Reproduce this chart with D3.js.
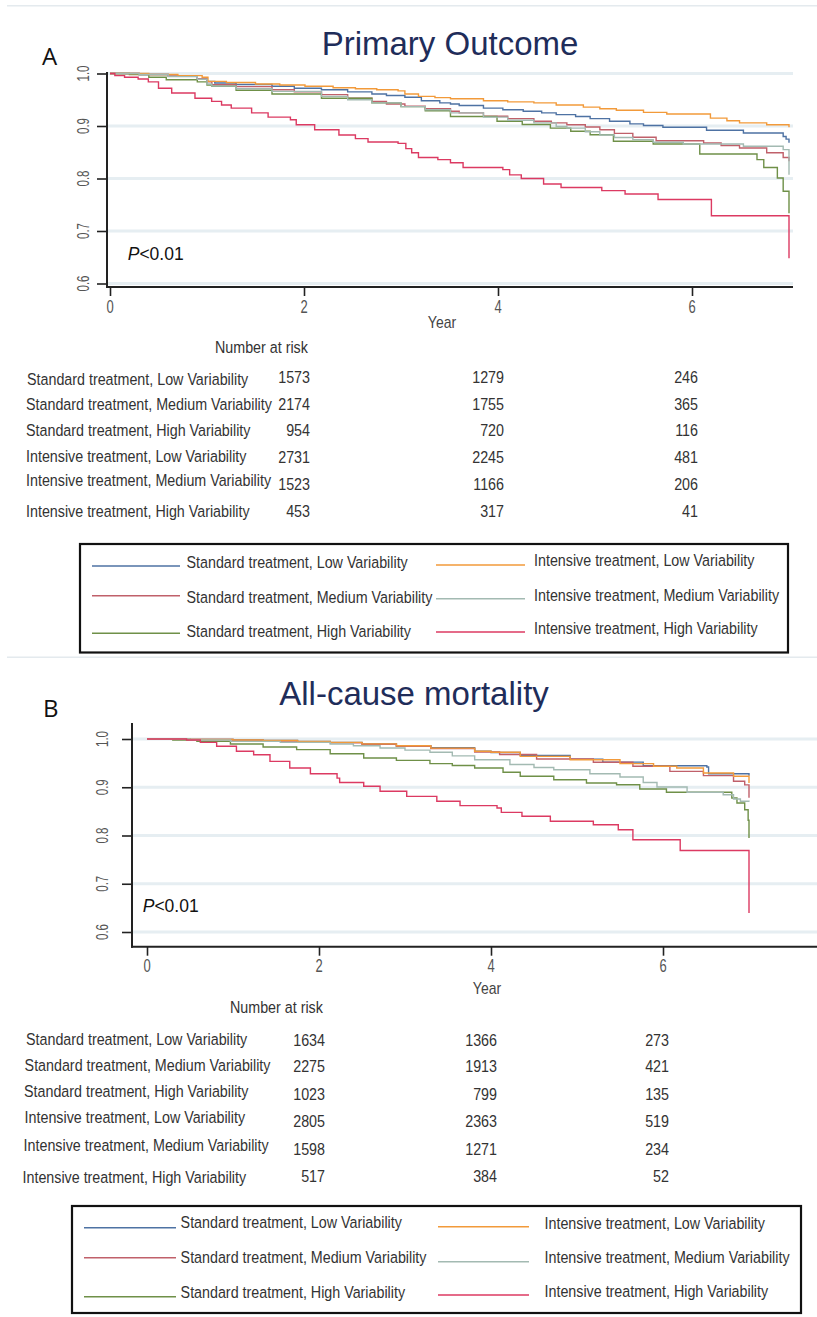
<!DOCTYPE html>
<html><head><meta charset="utf-8">
<script src="https://cdn.jsdelivr.net/npm/d3@7/dist/d3.min.js"></script>
<style>html,body{margin:0;padding:0;background:#fff;}svg{display:block;}</style>
</head><body><svg id="c" width="817" height="1317"></svg>
<script>
// ---------------- DATA ----------------
const seriesNames = [
  "Standard treatment, Low Variability",
  "Standard treatment, Medium Variability",
  "Standard treatment, High Variability",
  "Intensive treatment, Low Variability",
  "Intensive treatment, Medium Variability",
  "Intensive treatment, High Variability"
];
const seriesKeys = ["stdLow","stdMed","stdHigh","intLow","intMed","intHigh"];
const yTicks = [0.6,0.7,0.8,0.9,1.0];
const xTicks = [0,2,4,6];
const riskTimes = [2,4,6];

// Panel A: Primary Outcome  [year, survival] knots (step after)
const primaryStdLow = [[0,1],[0.3,0.998],[0.6,0.995],[0.9,0.99],[1.0,0.985],[1.08,0.982],[1.3,0.979],[1.67,0.9756],[1.9,0.972],[2.18,0.969],[2.45,0.965],[2.70,0.961],[2.85,0.958],[3.04,0.9547],[3.21,0.948],[3.4,0.944],[3.51,0.942],[3.6,0.939],[3.85,0.934],[4.05,0.931],[4.26,0.928],[4.45,0.925],[4.60,0.9216],[4.8,0.918],[4.95,0.914],[5.15,0.909],[5.36,0.904],[5.5,0.901],[5.70,0.8975],[6.15,0.892],[6.53,0.8867],[6.94,0.880],[6.97,0.875],[7.0,0.868]];
const primaryStdMed = [[0,1],[0.3,0.998],[0.6,0.995],[0.9,0.99],[1.0,0.984],[1.05,0.9787],[1.3,0.975],[1.67,0.969],[1.9,0.965],[2.18,0.9597],[2.45,0.953],[2.70,0.947],[2.85,0.942],[3.04,0.9375],[3.25,0.933],[3.51,0.928],[3.6,0.925],[3.85,0.9185],[4.1,0.914],[4.37,0.909],[4.55,0.906],[4.71,0.9025],[4.9,0.898],[5.05,0.893],[5.2,0.886],[5.39,0.8785],[5.63,0.872],[6.12,0.8676],[6.3,0.863],[6.49,0.858],[6.77,0.849],[6.94,0.840],[7.0,0.8327]];
const primaryStdHigh = [[0,1],[0.2,0.998],[0.4,0.993],[0.58,0.988],[0.9,0.984],[1.0,0.978],[1.05,0.9756],[1.3,0.968],[1.67,0.961],[2.18,0.953],[2.70,0.944],[3.0,0.937],[3.25,0.929],[3.51,0.918],[3.99,0.909],[4.25,0.903],[4.54,0.896],[4.75,0.89],[4.95,0.8834],[5.19,0.871],[5.6,0.8657],[6.08,0.8467],[6.67,0.836],[6.74,0.821],[6.88,0.801],[6.94,0.7756],[7.0,0.734]];
const primaryIntLow = [[0,1],[0.4,0.998],[0.7,0.996],[0.95,0.993],[1.01,0.985],[1.2,0.983],[1.5,0.98],[1.75,0.978],[2.01,0.9756],[2.3,0.973],[2.53,0.971],[2.75,0.969],[2.97,0.967],[3.04,0.961],[3.18,0.9565],[3.35,0.954],[3.51,0.952],[3.85,0.948],[4.1,0.946],[4.37,0.944],[4.6,0.940],[4.88,0.936],[5.05,0.933],[5.22,0.93],[5.5,0.926],[5.74,0.923],[6.19,0.915],[6.36,0.91],[6.49,0.906],[6.77,0.9025],[7.0,0.8975]];
const primaryIntMed = [[0,1],[0.3,0.998],[0.6,0.994],[0.9,0.989],[1.0,0.98],[1.05,0.976],[1.3,0.971],[1.67,0.966],[2.18,0.9565],[2.45,0.95],[2.70,0.944],[3.0,0.937],[3.25,0.931],[3.51,0.925],[3.85,0.917],[4.1,0.911],[4.37,0.906],[4.6,0.899],[4.71,0.896],[4.9,0.889],[5.05,0.883],[5.2,0.878],[5.39,0.874],[5.6,0.869],[5.91,0.8657],[6.53,0.8613],[6.94,0.855],[7.0,0.807]];
const primaryIntHigh = [[0,1],[0.05,0.996],[0.15,0.993],[0.29,0.9895],[0.395,0.984],[0.50,0.972],[0.636,0.963],[0.876,0.953],[1.048,0.947],[1.15,0.94],[1.25,0.934],[1.46,0.925],[1.63,0.917],[1.86,0.912],[1.92,0.9025],[2.11,0.893],[2.36,0.883],[2.53,0.876],[2.66,0.8695],[2.97,0.867],[3.05,0.857],[3.11,0.849],[3.18,0.840],[3.38,0.836],[3.51,0.83],[3.64,0.821],[4.05,0.817],[4.12,0.807],[4.24,0.80],[4.47,0.7895],[4.65,0.783],[5.07,0.777],[5.31,0.7705],[5.65,0.76],[6.2,0.729],[7.0,0.648]];

// Panel B: All-cause mortality
const mortStdLow = [[0,1],[0.5,0.999],[1.0,0.998],[1.35,0.997],[1.75,0.995],[2.13,0.993],[2.5,0.99],[2.9,0.986],[3.3,0.982],[3.81,0.9745],[4.0,0.972],[4.34,0.966],[4.92,0.958],[5.3,0.952],[5.77,0.9447],[6.51,0.942],[6.53,0.928],[7.0,0.924]];
const mortStdMed = [[0,1],[0.5,0.999],[1.0,0.997],[1.35,0.996],[1.75,0.994],[2.13,0.992],[2.5,0.989],[2.9,0.985],[3.3,0.98],[3.81,0.973],[4.1,0.968],[4.53,0.9585],[5.19,0.9517],[5.65,0.9434],[6.08,0.933],[6.47,0.924],[6.82,0.9123],[6.95,0.905],[7.0,0.878]];
const mortStdHigh = [[0,1],[0.3,0.998],[0.58,0.995],[0.97,0.9896],[1.35,0.9834],[1.74,0.978],[2.13,0.9695],[2.52,0.9606],[2.90,0.9558],[3.29,0.949],[3.55,0.945],[3.81,0.94],[4.14,0.931],[4.34,0.9227],[4.73,0.9157],[5.11,0.9088],[5.46,0.9053],[5.73,0.8964],[6.04,0.8895],[6.80,0.8777],[6.86,0.8673],[6.95,0.8535],[6.99,0.8315],[7.0,0.795]];
const mortIntLow = [[0,1],[0.5,0.999],[1.0,0.998],[1.35,0.997],[1.75,0.995],[2.13,0.993],[2.5,0.99],[2.9,0.986],[3.3,0.981],[3.81,0.9745],[4.0,0.9724],[4.34,0.964],[4.92,0.957],[5.5,0.949],[5.89,0.9434],[6.16,0.94],[6.47,0.9295],[6.82,0.9227],[7.0,0.909]];
const mortIntMed = [[0,1],[0.5,0.998],[0.97,0.995],[1.55,0.993],[2.13,0.9896],[2.4,0.986],[2.71,0.9813],[3.0,0.977],[3.29,0.9724],[3.55,0.965],[3.81,0.957],[4.22,0.947],[4.5,0.941],[4.73,0.9364],[5.15,0.928],[5.5,0.9212],[5.77,0.910],[5.93,0.9005],[6.28,0.8895],[6.70,0.8846],[6.82,0.8756],[6.90,0.871],[7.0,0.87]];
const mortIntHigh = [[0,1],[0.46,0.998],[0.62,0.993],[0.81,0.985],[1.04,0.9745],[1.24,0.9675],[1.43,0.9537],[1.66,0.94],[1.90,0.928],[2.21,0.919],[2.24,0.910],[2.52,0.902],[2.71,0.8916],[3.02,0.881],[3.37,0.871],[3.64,0.862],[4.07,0.857],[4.12,0.848],[4.36,0.84],[4.69,0.8294],[5.19,0.8224],[5.48,0.812],[5.65,0.7913],[6.20,0.769],[7.0,0.6394]];

// Number at risk (at years 2, 4, 6)
const riskPrimary = [[1573,1279,246],[2174,1755,365],[954,720,116],[2731,2245,481],[1523,1166,206],[453,317,41]];
const riskMortality = [[1634,1366,273],[2275,1913,421],[1023,799,135],[2805,2363,519],[1598,1271,234],[517,384,52]];

// ---------------- STYLE / LAYOUT ----------------
const colors = {stdLow:"#4e72a3", stdMed:"#c0606a", stdHigh:"#6f9048", intLow:"#f29a3a", intMed:"#a3bab2", intHigh:"#dc3a62"};
const FONT = "'Liberation Sans', Arial, sans-serif";
const svg = d3.select("#c");

function txt(x, y, s, o={}) {
  const t = svg.append("text")
    .attr("transform", `translate(${x},${y}) scale(${o.sx||1},${o.sy||1})` + (o.rot?` rotate(${o.rot})`:""))
    .attr("font-family", o.family||FONT)
    .attr("font-size", o.size||14)
    .attr("fill", o.fill||"#222")
    .attr("text-anchor", o.anchor||"start")
    .attr("dominant-baseline", o.base||"central");
  if (o.weight) t.attr("font-weight", o.weight);
  t.text(s);
  return t;
}

const panels = [
  { title:"Primary Outcome", letter:"A", titleX:450, titleY:55, letterX:42, letterY:65,
    xRange:[110,789], yRange:[283.5,73.5], axisX:107, axisRight:793, yAxisTop:72, axisY:287,
    yLabX:83, xLabY:307, yearX:442, yearY:322, pX:127.7, pY:260,
    data:{stdLow:primaryStdLow, stdMed:primaryStdMed, stdHigh:primaryStdHigh, intLow:primaryIntLow, intMed:primaryIntMed, intHigh:primaryIntHigh},
    risk:riskPrimary, narX:215, narY:347,
    rowLabX:[27,26,26,26,26,26], rowLabY:[379.3,404.3,430.3,456,480.7,511], rowNumY:[377.7,404.3,430.3,457.3,484.3,511],
    box:[80,544,788,652.5],
    legCol:[{lx:[92,180], tx:186.5, lineY:[566,595.7,633.3], textY:[562.7,597.3,631.7]},
            {lx:[436,525], tx:534, lineY:[565,598.7,632], textY:[560.7,595.3,628.3]}]
  },
  { title:"All-cause mortality", letter:"B", titleX:414, titleY:705, letterX:43, letterY:717,
    xRange:[147,749], yRange:[932,739], axisX:132, axisRight:817, yAxisTop:723, axisY:946.7,
    yLabX:101.7, xLabY:966, yearX:487, yearY:988, pX:142.7, pY:911.7,
    data:{stdLow:mortStdLow, stdMed:mortStdMed, stdHigh:mortStdHigh, intLow:mortIntLow, intMed:mortIntMed, intHigh:mortIntHigh},
    risk:riskMortality, narX:230, narY:1007.3,
    rowLabX:[26,24.6,24,24.6,23.6,22.5], rowLabY:[1039.3,1065,1091,1117.3,1145,1177.3], rowNumY:[1040,1066.7,1094.3,1121.7,1149.3,1176.7],
    box:[72,1206,801,1313],
    legCol:[{lx:[84,176], tx:180.6, lineY:[1227.7,1257.7,1296.7], textY:[1222.7,1257.3,1292.3]},
            {lx:[438,529], tx:544.5, lineY:[1226.7,1261.7,1295], textY:[1223.3,1257.3,1291.7]}]
  }
];

// separator lines
[5.7, 657.3].forEach(yy => svg.append("line").attr("x1",7).attr("x2",817).attr("y1",yy).attr("y2",yy)
  .attr("stroke","#e4eaee").attr("stroke-width",1.5));

panels.forEach(p => {
  const x = d3.scaleLinear().domain([0,7]).range(p.xRange);
  const y = d3.scaleLinear().domain([0.6,1.0]).range(p.yRange);

  // titles
  txt(p.titleX, p.titleY, p.title, {size:33, fill:"#1f2d5a", anchor:"middle", base:"alphabetic"});
  txt(p.letterX, p.letterY, p.letter, {size:24, fill:"#111", family:"'Open Sans', 'Noto Sans', sans-serif", base:"alphabetic"});

  // gridlines
  svg.append("g").selectAll("line").data(yTicks).join("line")
    .attr("x1", p.axisX).attr("x2", p.axisRight)
    .attr("y1", d=>y(d)).attr("y2", d=>y(d))
    .attr("stroke","#e6eef2").attr("stroke-width",3);

  // axes
  const ya = svg.append("g").attr("transform",`translate(${p.axisX},0)`)
    .call(d3.axisLeft(y).tickValues(yTicks).tickSize(10).tickFormat(d3.format(".1f")));
  ya.select(".domain").remove();
  ya.selectAll(".tick line").attr("stroke","#222").attr("stroke-width",1.6);
  ya.selectAll(".tick text").remove();
  yTicks.forEach(v => txt(p.yLabX, y(v), d3.format(".1f")(v), {size:11.5, fill:"#555", anchor:"middle", rot:-90, sx:1.45}));

  const xa = svg.append("g").attr("transform",`translate(0,${p.axisY})`)
    .call(d3.axisBottom(x).tickValues(xTicks).tickSize(9));
  xa.select(".domain").remove();
  xa.selectAll(".tick line").attr("stroke","#222").attr("stroke-width",1.6);
  xa.selectAll(".tick text").remove();
  xTicks.forEach(v => txt(x(v), p.xLabY, String(v), {size:13, fill:"#555", anchor:"middle", sy:1.35}));

  svg.append("line").attr("x1",p.axisX).attr("x2",p.axisX).attr("y1",p.yAxisTop).attr("y2",p.axisY+1)
    .attr("stroke","#222").attr("stroke-width",2);
  svg.append("line").attr("x1",p.axisX-1).attr("x2",p.axisRight).attr("y1",p.axisY).attr("y2",p.axisY)
    .attr("stroke","#222").attr("stroke-width",2);

  txt(p.yearX, p.yearY, "Year", {size:14, fill:"#444", anchor:"middle", sy:1.15});

  // curves
  const line = d3.line().x(d=>x(d[0])).y(d=>y(d[1])).curve(d3.curveStepAfter);
  seriesKeys.forEach(k => {
    svg.append("path").datum(p.data[k]).attr("d", line)
      .attr("fill","none").attr("stroke", colors[k]).attr("stroke-width",1.4);
  });

  // P value
  const pt = txt(p.pX, p.pY, "", {size:17.5, fill:"#111", base:"alphabetic"});
  pt.append("tspan").attr("font-style","italic").text("P");
  pt.append("tspan").text("<0.01");

  // risk table
  txt(p.narX, p.narY, "Number at risk", {size:14.3, fill:"#333", sy:1.1});
  seriesNames.forEach((nm,i) => {
    txt(p.rowLabX[i], p.rowLabY[i], nm, {size:14.3, fill:"#333", sy:1.1});
    riskTimes.forEach((t,j) => txt(x(t)+6, p.rowNumY[i], String(p.risk[i][j]), {size:14.3, fill:"#333", anchor:"end", sy:1.1}));
  });

  // legend
  const b = p.box;
  svg.append("rect").attr("x",b[0]).attr("y",b[1]).attr("width",b[2]-b[0]).attr("height",b[3]-b[1])
    .attr("fill","none").attr("stroke","#111").attr("stroke-width",2.2);
  [[0,1,2],[3,4,5]].forEach((idxs,c) => {
    const col = p.legCol[c];
    idxs.forEach((si,r) => {
      svg.append("line").attr("x1",col.lx[0]).attr("x2",col.lx[1]).attr("y1",col.lineY[r]).attr("y2",col.lineY[r])
        .attr("stroke",colors[seriesKeys[si]]).attr("stroke-width",1.5);
      txt(col.tx, col.textY[r], seriesNames[si], {size:14.3, fill:"#333", sy:1.1});
    });
  });
});
</script></body></html>
